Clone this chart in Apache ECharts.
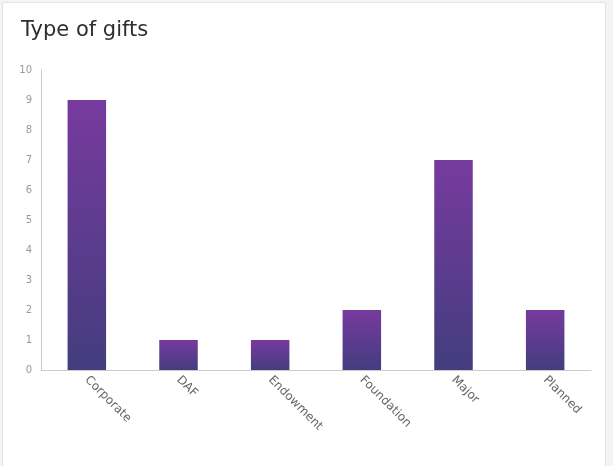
<!DOCTYPE html>
<html><head><meta charset="utf-8">
<script src="https://cdn.jsdelivr.net/npm/echarts@6/dist/echarts.min.js"></script>
<style>
html,body{margin:0;padding:0;background:#f4f4f4;}
#card{position:absolute;left:2px;top:2px;width:604px;height:470px;background:#fff;border:1px solid #e4e4e4;box-sizing:border-box;}
#c{position:absolute;left:0;top:0;width:613px;height:466px;}
</style></head>
<body>
<div id="card"></div>
<div id="c"></div>
<script>
const categories = ['Corporate','DAF','Endowment','Foundation','Major','Planned'];
const values = [9,1,1,2,7,2];
const yTicks = [0,1,2,3,4,5,6,7,8,9,10];

const chart = echarts.init(document.getElementById('c'), null, {renderer:'canvas'});
chart.setOption({
  backgroundColor: 'transparent',
  animation: false,
  title: {
    text: 'Type of gifts', left: 16, top: 15,
    textStyle: {fontFamily: 'DejaVu Sans', fontSize: 21, fontWeight: 'normal', color: '#2e2e2e'}
  },
  grid: {left: 41, top: 70, right: 22, bottom: 96, containLabel: false},
  xAxis: {
    type: 'category', data: categories,
    axisLine: {lineStyle: {color: '#cccccc', width: 1}},
    axisTick: {show: false},
    axisLabel: {rotate: -45, color: '#666', fontSize: 12, fontFamily: 'DejaVu Sans', margin: 8, interval: 0}
  },
  yAxis: {
    type: 'value', min: yTicks[0], max: yTicks[yTicks.length-1], interval: 1,
    axisLine: {show: true, lineStyle: {color: '#cccccc', width: 1}},
    axisTick: {show: false},
    splitLine: {show: false},
    axisLabel: {color: '#999', fontSize: 10, fontFamily: 'DejaVu Sans', margin: 9}
  },
  series: [{
    type: 'bar', data: values, barWidth: '42%',
    itemStyle: {
      color: new echarts.graphic.LinearGradient(0,0,0,1,[
        {offset:0, color:'#773a9e'},
        {offset:1, color:'#433d7e'}
      ])
    }
  }]
});
</script>
</body></html>
